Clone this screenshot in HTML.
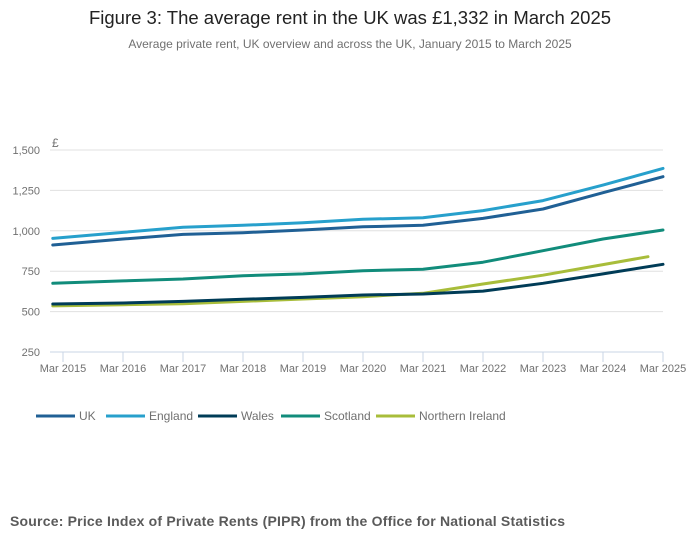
<!DOCTYPE html>
<html><head><meta charset="utf-8"><style>
body{margin:0;background:#fff;font-family:"Liberation Sans",sans-serif;}
svg{display:block}
</style></head><body>
<svg width="700" height="549" viewBox="0 0 700 549">
<text x="350" y="24" text-anchor="middle" font-size="18.5" fill="#222">Figure 3: The average rent in the UK was £1,332 in March 2025</text>
<text x="350" y="48" text-anchor="middle" font-size="12" fill="#707070">Average private rent, UK overview and across the UK, January 2015 to March 2025</text>
<text x="52" y="147" font-size="12" fill="#707070">£</text>
<g id="grid"></g><g id="xaxis"></g><g id="series"></g><g id="legend"></g>
<text x="10" y="526" font-size="14" font-weight="bold" fill="#5a5a5a" textLength="555">Source: Price Index of Private Rents (PIPR) from the Office for National Statistics</text>
</svg>
<script>
const yTicks=[250,500,750,1000,1250,1500];
const yTickLabels=["250","500","750","1,000","1,250","1,500"];
const xTickYears=[2015,2016,2017,2018,2019,2020,2021,2022,2023,2024,2025];
const dates=[2015.0,2016.17,2017.17,2018.17,2019.17,2020.17,2021.17,2022.17,2023.17,2024.17,2025.17];
const niDates=[2015.0,2016.17,2017.17,2018.17,2019.17,2020.17,2021.17,2022.17,2023.17,2024.17,2024.92];
const seriesNames=["UK","England","Wales","Scotland","Northern Ireland"];
const ukValues=[912,949,978,988,1005,1025,1034,1077,1135,1236,1335];
const englandValues=[953,990,1022,1034,1050,1071,1081,1125,1187,1283,1386];
const walesValues=[547,553,563,576,588,603,609,627,675,733,793];
const scotlandValues=[675,690,702,722,733,753,762,806,877,949,1005];
const niValues=[535,543,549,563,578,592,613,671,725,791,840];
const colors=["#206095","#27a0cc","#003c57","#118c7b","#a8bd3a"];
const NS="http://www.w3.org/2000/svg";
const X0=55,X1=663,Y0=352,Y1=150;
function xs(d){return 63+(d-2015.17)*60;}
function ys(v){return Y0-(v-250)/(1500-250)*(Y0-Y1);}
function mk(tag,attrs,parent){const e=document.createElementNS(NS,tag);for(const k in attrs)e.setAttribute(k,attrs[k]);parent.appendChild(e);return e;}
const grid=document.getElementById('grid');
yTicks.forEach((t,i)=>{
 const l=mk('line',{x1:X0-5,x2:X1,y1:ys(t),y2:ys(t),stroke:i==0?'#c9d4e6':'#e0e0e0','stroke-width':1},grid);
 
 
 const tx=mk('text',{x:40,y:ys(t)+4,'text-anchor':'end','font-size':11,fill:'#707070'},grid);
 tx.textContent=yTickLabels[i];
 
 
});
const xa=document.getElementById('xaxis');
xTickYears.forEach(y=>{
 const x=xs(y+0.17);
 const l=mk('line',{x1:x,x2:x,y1:Y0,y2:Y0+10,stroke:'#c9d4e6'},xa);
 
 
 const tx=mk('text',{x:x,y:372,'text-anchor':'middle','font-size':11,fill:'#707070'},xa);
 tx.textContent='Mar '+y;
 
 
});
const sg=document.getElementById('series');
const allVals=[ukValues,englandValues,walesValues,scotlandValues,niValues];
const order=[4,2,3,0,1];
order.forEach(i=>{
 const ds=i==4?niDates:dates;
 const pts=allVals[i].map((v,j)=>xs(ds[j]).toFixed(1)+','+ys(v).toFixed(1)).join(' ');
 const p=mk('polyline',{points:pts,fill:'none',stroke:colors[i],'stroke-width':3,'stroke-linejoin':'round','stroke-linecap':'round'},sg);
 
 
});
const lg=document.getElementById('legend');
const lx=[36,106,198,281,376];
seriesNames.forEach((n,i)=>{
 const g=mk('g',{},lg);
 
 
 mk('line',{x1:lx[i],x2:lx[i]+39,y1:416,y2:416,stroke:colors[i],'stroke-width':3},g);
 const t=mk('text',{x:lx[i]+43,y:420,'font-size':12,fill:'#707070'},g);
 t.textContent=n;
});
</script>
</body></html>
